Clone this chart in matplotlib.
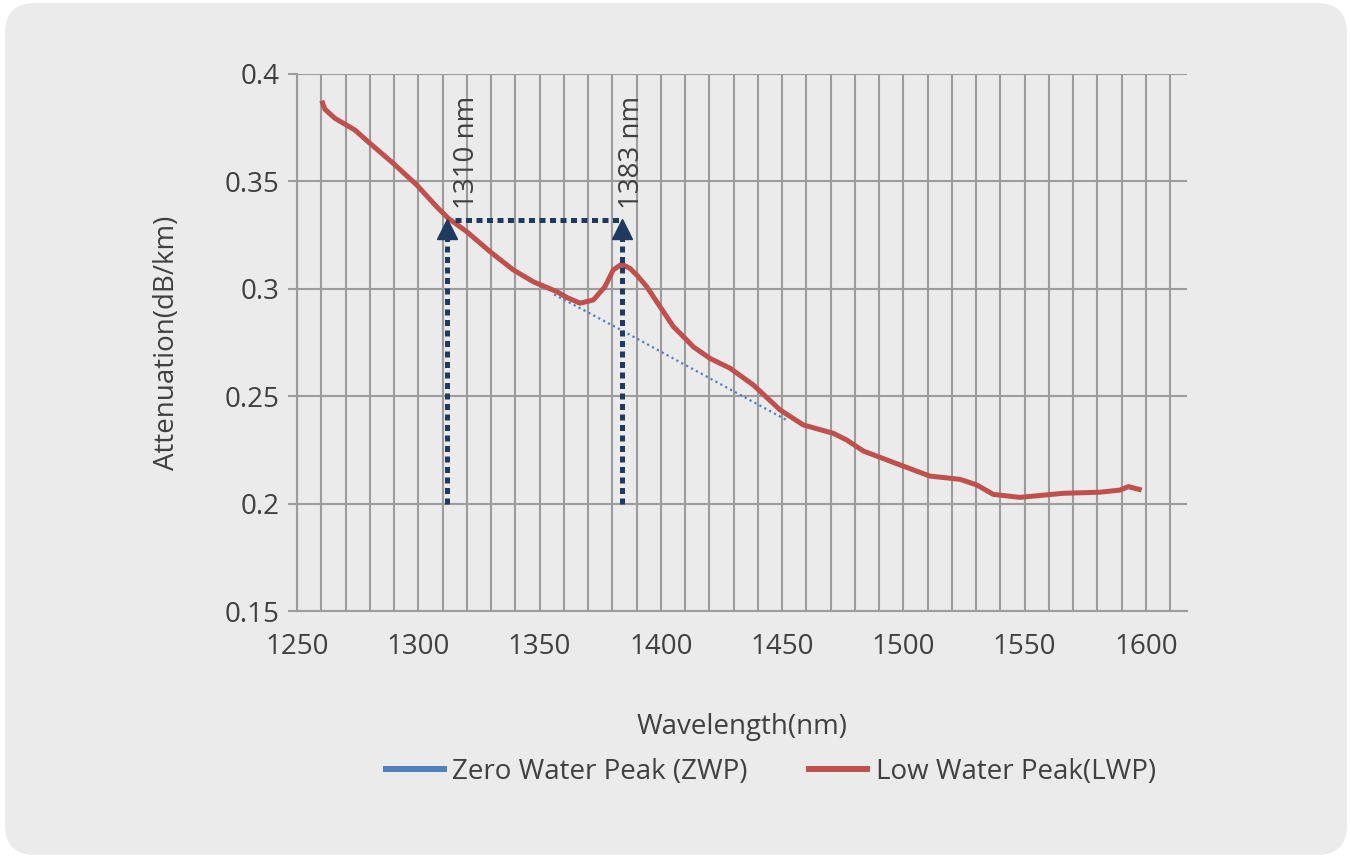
import matplotlib.pyplot as plt
from matplotlib.patches import FancyBboxPatch
from matplotlib.lines import Line2D

plt.rcParams['font.family'] = ['Open Sans', 'DejaVu Sans']

# Low Water Peak fibre
lwp_nm = [1260.2, 1261.5, 1265.6, 1273.9, 1280.1, 1289.7, 1299.4, 1307.6, 1312.4,
          1320.0, 1329.6, 1339.2, 1347.4, 1357.1, 1361.2, 1366.7, 1372.2, 1377.0,
          1380.4, 1383.9, 1387.3, 1390.1, 1394.2, 1399.7, 1405.2, 1410.7, 1413.4,
          1420.3, 1428.6, 1438.2, 1449.2, 1458.8, 1471.2, 1476.7, 1483.5, 1498.7,
          1511.0, 1523.4, 1530.3, 1537.1, 1548.1, 1566.0, 1581.1, 1589.4, 1592.8,
          1598.3]
lwp_db = [0.3876, 0.3836, 0.3794, 0.3739, 0.3677, 0.3584, 0.3483, 0.3382, 0.3328,
          0.3266, 0.3173, 0.3088, 0.3033, 0.2987, 0.2960, 0.2933, 0.2948, 0.3010,
          0.3088, 0.3115, 0.3095, 0.3064, 0.3010, 0.2917, 0.2824, 0.2762, 0.2730,
          0.2676, 0.2630, 0.2552, 0.2436, 0.2366, 0.2327, 0.2296, 0.2245, 0.2180,
          0.2128, 0.2113, 0.2087, 0.2043, 0.2029, 0.2048, 0.2053, 0.2063, 0.2079,
          0.2063]

# Zero Water Peak fibre (only the straight section under the water peak)
zwp_nm = [1356, 1384, 1452]
zwp_db = [0.2974, 0.2806, 0.2388]

# marked wavelengths and the level of the connecting line
mark_nm = [1312, 1384]
mark_labels = ['1310 nm', '1383 nm']
mark_label_nm = [1320, 1388]
mark_top = 0.3245
link_db = 0.332

xticks = list(range(1250, 1601, 50))
yticks = [0.15, 0.2, 0.25, 0.3, 0.35, 0.4]

grid_c = '#9c9c9c'
text_c = '#404040'
navy = '#1f3a60'

fig = plt.figure(figsize=(13.5, 8.56), dpi=100)
fig.patch.set_facecolor('white')
bg = FancyBboxPatch((5, 1), 1342, 852, boxstyle='round,pad=0,rounding_size=30',
                    transform=None, facecolor='#ebebeb', edgecolor='none', zorder=-10)
fig.add_artist(bg)

ax = fig.add_axes([297 / 1350, 1 - 611 / 856, 890 / 1350, 537 / 856])
ax.set_facecolor('none')
ax.set_xlim(1250, 1617)
ax.set_ylim(0.15, 0.4)

# grid: every 10 nm vertically, every 0.05 horizontally
ax.set_xticks(xticks)
ax.set_xticks(range(1260, 1611, 10), minor=True)
ax.set_yticks(yticks)
ax.set_yticklabels(['0.15', '0.2', '0.25', '0.3', '0.35', '0.4'])
ax.grid(which='both', axis='x', color=grid_c, lw=1.5)
ax.grid(which='major', axis='y', color=grid_c, lw=1.5)
ax.set_axisbelow(True)
for s in ['top', 'right']:
    ax.spines[s].set_visible(False)
for s in ['left', 'bottom']:
    ax.spines[s].set_color(grid_c)
    ax.spines[s].set_linewidth(1.5)
ax.tick_params(axis='x', which='both', length=0, pad=16, labelsize=20, labelcolor=text_c)
ax.tick_params(axis='y', length=6.5, width=1.5, color=grid_c, pad=6,
               labelsize=20, labelcolor=text_c)

# curves
ax.plot(zwp_nm, zwp_db, color='#4f81bd', lw=1.6, ls=(0, (1, 1.5)), zorder=3)
ax.plot(lwp_nm, lwp_db, color='#c0504d', lw=3.6, zorder=4,
        solid_capstyle='butt', solid_joinstyle='round')

# arrows marking 1310 and 1383 nm
for x, lab, tx in zip(mark_nm, mark_labels, mark_label_nm):
    ax.plot([x, x], [0.2, mark_top], color=navy, lw=3.6, ls=(0, (1.2, 0.9)), zorder=5)
    ax.plot(x, mark_top + 0.0035, marker='^', ms=14, color=navy, zorder=5)
    ax.text(tx, 0.337, lab, rotation=90, ha='center', va='bottom',
            fontsize=20, color=text_c)
ax.plot([mark_nm[0] + 3, mark_nm[1] - 1], [link_db, link_db], color=navy, lw=3.6,
        ls=(0, (1.2, 0.9)), zorder=5)

ax.set_xlabel('Wavelength(nm)', fontsize=20, color=text_c)
ax.xaxis.set_label_coords(0.5, -0.19)
ax.set_ylabel('Attenuation(dB/km)', fontsize=20, color=text_c)
ax.yaxis.set_label_coords(-0.13, 0.5)

handles = [Line2D([], [], color='#4f81bd', lw=4.3),
           Line2D([], [], color='#c0504d', lw=4.3)]
fig.legend(handles, ['Zero Water Peak (ZWP)', 'Low Water Peak(LWP)'],
           loc='center', bbox_to_anchor=(0.571, 1 - 772 / 856), ncol=2, frameon=False,
           fontsize=20, handlelength=2.1, handletextpad=0.3, columnspacing=2.2,
           labelcolor=text_c)

plt.savefig('out.png', dpi=100)
